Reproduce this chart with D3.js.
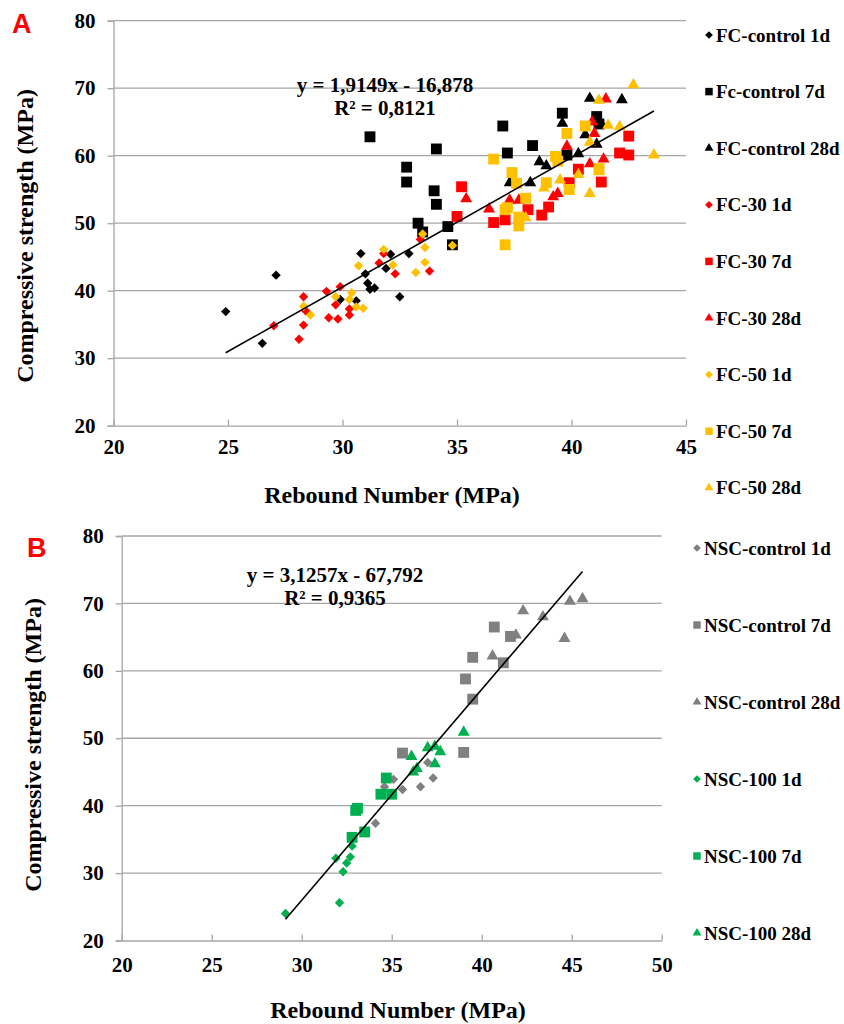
<!DOCTYPE html>
<html>
<head>
<meta charset="utf-8">
<script src="https://cdn.jsdelivr.net/npm/d3@7"></script>
<style>
  body { margin: 0; background: #fff; }
  svg { display: block; }
</style>
</head>
<body>
<div class="chart"></div>
<script>
// ---- data ----
// panel A
var fcControl1d = [[24.9,36.9],[26.5,32.2],[27.1,42.3],[29.9,38.7],[30.6,38.5],[30.8,45.5],[31.0,42.5],[31.1,41.1],[31.2,40.2],[31.4,40.4],[31.9,43.3],[32.1,45.4],[32.5,39.1],[32.9,45.5]]
var fcControl7d = [[31.2,62.8],[32.8,56.1],[32.8,58.3],[33.3,50.0],[33.5,48.7],[34.0,54.8],[34.1,52.8],[34.1,61.0],[34.6,49.5],[34.8,46.8],[37.0,64.4],[37.2,60.4],[38.3,61.5],[39.6,66.3],[39.8,60.1],[41.1,65.8],[41.2,64.7]]
var fcControl28d = [[37.3,56.0],[38.2,56.0],[38.6,59.1],[38.9,58.5],[39.6,64.8],[40.3,60.3],[40.6,63.1],[40.8,68.5],[41.1,61.7],[41.3,64.7],[42.2,68.3]]
var fc30_1d = [[27.0,34.8],[28.1,32.8],[28.3,34.9],[28.3,39.1],[28.4,37.0],[29.3,39.9],[29.4,36.0],[29.7,37.9],[29.8,35.8],[29.9,40.6],[30.3,37.3],[30.3,36.4],[31.6,44.1],[31.8,45.5],[32.3,42.5],[33.4,47.6],[33.8,42.9]]
var fc30_7d = [[35.0,51.0],[35.2,55.4],[36.6,50.1],[37.1,50.5],[38.1,52.0],[38.7,51.2],[39.0,52.4],[39.9,56.0],[40.3,58.0],[41.3,56.1],[42.1,60.4],[42.5,60.1],[42.5,62.9]]
var fc30_28d = [[35.4,53.6],[36.4,52.1],[37.3,53.4],[37.7,53.4],[39.2,53.9],[39.4,54.4],[39.8,61.4],[40.8,58.8],[40.9,65.0],[41.0,63.3],[41.4,59.5],[41.5,68.4]]
var fc50_1d = [[28.3,37.7],[28.6,36.4],[29.7,39.1],[30.3,38.7],[30.4,39.7],[30.6,37.6],[30.7,43.7],[30.9,37.4],[31.8,46.1],[32.2,43.8],[33.2,42.7],[33.5,48.4],[33.6,46.4],[33.6,44.2],[34.8,46.7]]
var fc50_7d = [[36.6,59.5],[37.1,46.8],[37.1,52.0],[37.2,52.3],[37.4,57.5],[37.6,55.9],[37.7,50.9],[37.7,49.6],[38.0,53.7],[38.9,56.0],[39.3,59.9],[39.4,59.2],[39.8,63.3],[39.9,55.0],[40.6,64.4],[41.2,58.1]]
var fc50_28d = [[38.0,50.8],[38.8,55.2],[39.5,56.4],[40.3,57.2],[40.8,54.4],[40.8,62.0],[41.2,68.2],[41.2,57.6],[41.6,64.5],[42.1,64.3],[42.7,70.5],[43.6,60.1]]
var namesA = ["FC-control 1d","Fc-control 7d","FC-control 28d","FC-30 1d","FC-30 7d","FC-30 28d","FC-50 1d","FC-50 7d","FC-50 28d"]
var fitA = [1.9149, -16.878]
var eqA = ["y = 1,9149x - 16,878", "R² = 0,8121"]

// panel B
var nscControl1d = [[34.1,37.4],[34.6,42.8],[35.1,43.9],[35.6,42.4],[36.6,42.8],[37.0,46.4],[37.3,44.1]]
var nscControl7d = [[35.6,47.8],[39.0,47.9],[39.1,58.8],[39.5,55.8],[39.5,62.0],[40.7,66.5],[41.2,61.2],[41.6,65.1]]
var nscControl28d = [[40.6,62.2],[41.9,65.3],[42.3,68.9],[43.4,68.0],[44.6,64.8],[44.9,70.3],[45.6,70.7]]
var nsc100_1d = [[29.1,24.0],[31.9,32.2],[32.1,25.6],[32.3,30.2],[32.5,31.5],[32.7,32.4],[32.8,34.0]]
var nsc100_7d = [[32.8,35.3],[33.0,39.3],[33.1,39.6],[33.5,36.1],[34.4,41.7],[34.7,44.1],[35.0,41.7]]
var nsc100_28d = [[36.1,47.3],[36.2,45.0],[36.4,45.5],[37.0,48.6],[37.4,48.8],[37.4,46.2],[37.7,48.0],[39.0,50.9]]
var namesB = ["NSC-control 1d","NSC-control 7d","NSC-control 28d","NSC-100 1d","NSC-100 7d","NSC-100 28d"]
var fitB = [3.1257, -67.792]
var eqB = ["y = 3,1257x - 67,792", "R² = 0,9365"]

var yTicks = [20,30,40,50,60,70,80]
var xTicksA = [20,25,30,35,40,45]
var xTicksB = [20,25,30,35,40,45,50]

var serif = "'Liberation Serif','Times New Roman',serif"
var shapes = ["diamond","square","triangle"]

var svg = d3.select(".chart")
    .append("svg")
    .attr("width", 844)
    .attr("height", 1024)

function markPath(shape, big) {
    if (shape == "diamond") return d3.symbol(d3.symbolSquare, big ? 44 : 30)()
    if (shape == "square") return d3.symbol(d3.symbolSquare, big ? 118 : 56)()
    return d3.symbol(d3.symbolTriangle, big ? 62 : 34)()
}

function drawPanel(p) {
    var x = d3.scaleLinear().domain(p.xDomain).range([p.left, p.right])
    var y = d3.scaleLinear().domain([20, 80]).range([p.bottom, p.top])
    var g = svg.append("g")

    // gridlines
    g.selectAll(".grid").data(yTicks.slice(1)).enter().append("line")
        .attr("x1", p.left).attr("x2", p.right)
        .attr("y1", d => y(d)).attr("y2", d => y(d))
        .style("stroke", "#a6a6a6").style("stroke-width", 1.3)

    var yAxis = g.append("g").attr("transform", "translate(" + p.left + ",0)")
        .call(d3.axisLeft(y).tickValues(yTicks).tickSize(6).tickPadding(12))
    var xAxis = g.append("g").attr("transform", "translate(0," + p.bottom + ")")
        .call(d3.axisBottom(x).tickValues(p.xTicks).tickSizeInner(-6).tickSizeOuter(0).tickPadding(p.xPad))
    ;[yAxis, xAxis].forEach(a => {
        a.selectAll("path,line").style("stroke", "#a6a6a6").style("stroke-width", 1.3)
        a.selectAll("text").style("font-family", serif).style("font-weight", "bold")
            .style("font-size", "21px").attr("fill", "#000")
    })

    // series
    p.series.forEach((s, i) => {
        var shape = shapes[i % 3]
        g.selectAll(".pt" + i).data(s).enter().append("path")
            .attr("d", markPath(shape, true))
            .attr("transform", d => "translate(" + x(d[0]) + "," + y(d[1]) + ")" + (shape == "diamond" ? " rotate(45)" : ""))
            .style("fill", p.colors[Math.floor(i / 3)])
    })

    // trend line
    var all = [].concat.apply([], p.series)
    var x0 = d3.min(all, d => d[0]), x1 = d3.max(all, d => d[0])
    g.append("line")
        .attr("x1", x(x0)).attr("y1", y(p.fit[0] * x0 + p.fit[1]))
        .attr("x2", x(x1)).attr("y2", y(p.fit[0] * x1 + p.fit[1]))
        .style("stroke", "black").style("stroke-width", 1.6)

    p.eq.forEach((t, i) => {
        g.append("text").attr("x", p.eqX).attr("y", p.eqY + i * 23)
            .attr("text-anchor", "middle").text(t)
            .style("font-family", serif).style("font-weight", "bold").style("font-size", "21px")
    })

    // axis titles
    g.append("text").attr("x", p.xTitle[0]).attr("y", p.xTitle[1])
        .attr("text-anchor", "middle").text("Rebound Number (MPa)")
        .style("font-family", serif).style("font-weight", "bold").style("font-size", "24px")
    g.append("text")
        .attr("transform", "translate(" + p.yTitle[0] + "," + p.yTitle[1] + ") rotate(-90)")
        .attr("text-anchor", "middle").attr("dy", "0.35em").text("Compressive strength (MPa)")
        .style("font-family", serif).style("font-weight", "bold").style("font-size", "24px")

    // panel letter
    g.append("text").attr("x", p.letter[0]).attr("y", p.letter[1]).text(p.letter[2])
        .style("font-family", "'Liberation Sans',Arial,sans-serif").style("font-weight", "bold")
        .style("font-size", "27px").attr("fill", "#ff0000")

    // legend
    p.names.forEach((n, i) => {
        var ly = p.legY + i * p.legStep
        var shape = shapes[i % 3]
        g.append("path").attr("d", markPath(shape, false))
            .attr("transform", "translate(" + p.legX + "," + ly + ")" + (shape == "diamond" ? " rotate(45)" : ""))
            .style("fill", p.colors[Math.floor(i / 3)])
        g.append("text").attr("x", p.legX + 7).attr("y", ly).attr("dy", "0.35em").text(n)
            .style("font-family", serif).style("font-weight", "bold").style("font-size", "19px")
    })
}

drawPanel({
    xDomain: [20, 45], left: 113.5, right: 686, top: 20.7, bottom: 425.7,
    xTicks: xTicksA, xPad: 13,
    series: [fcControl1d, fcControl7d, fcControl28d, fc30_1d, fc30_7d, fc30_28d, fc50_1d, fc50_7d, fc50_28d],
    colors: ["#000000", "#ff0000", "#ffc000"],
    fit: fitA, eq: eqA, eqX: 385, eqY: 92,
    names: namesA, legX: 709, legY: 35, legStep: 56.6,
    xTitle: [392, 503], yTitle: [25, 236], letter: [12, 33, "A"]
})

drawPanel({
    xDomain: [20, 50], left: 121.7, right: 661.7, top: 536, bottom: 940.5,
    xTicks: xTicksB, xPad: 17,
    series: [nscControl1d, nscControl7d, nscControl28d, nsc100_1d, nsc100_7d, nsc100_28d],
    colors: ["#808080", "#00b050"],
    fit: fitB, eq: eqB, eqX: 335, eqY: 582,
    names: namesB, legX: 697, legY: 548, legStep: 77,
    xTitle: [398, 1018], yTitle: [33, 745], letter: [27, 557, "B"]
})
</script>
</body>
</html>
